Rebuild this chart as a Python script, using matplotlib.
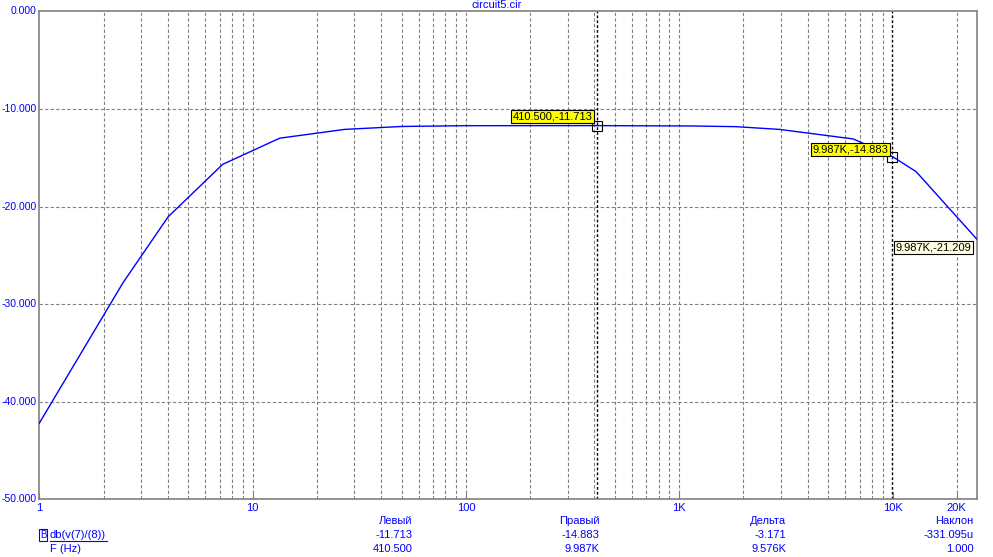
import numpy as np
import matplotlib
matplotlib.use('Agg')
import matplotlib.pyplot as plt
from matplotlib.ticker import FixedLocator, NullFormatter

plt.rcParams['font.family'] = ['Liberation Sans', 'DejaVu Sans']

# AC response
freq = [1, 2.47, 4.02, 7.24, 13.4, 27, 50, 100, 410.5, 1156, 1845, 2950,
        6550, 9987, 12900, 24800]
gain_db = [-42.2, -27.8, -21.05, -15.68, -13.0, -12.1, -11.8, -11.72, -11.713,
           -11.75, -11.82, -12.1, -13.08, -14.883, -16.43, -23.33]

x_ticks = [1, 10, 100, 1000, 10000, 20000]
x_tick_labels = ['1', '10', '100', '1K', '10K', '20K']
y_ticks = [0, -10, -20, -30, -40, -50]

cursor_left = (410.5, -11.713)
cursor_right = (9987, -14.883)

table_heads = ['Левый', 'Правый', 'Дельта', 'Наклон']
table_row1 = ['-11.713', '-14.883', '-3.171', '-331.095u']
table_row2 = ['410.500', '9.987K', '9.576K', '1.000']

blue = '#0000ff'
grey = '#808080'

fig = plt.figure(figsize=(9.93, 5.57), dpi=100)
W, H = 993.0, 557.0
ax = fig.add_axes([39.3 / W, 1 - 499.3 / H, (976.7 - 39.3) / W, (499.3 - 11.3) / H])

ax.plot(freq, gain_db, color=blue, lw=1.0, zorder=3)
ax.set_xscale('log')
ax.set_xlim(1, 24800)
ax.set_ylim(-50, 0)

# grid on every decade subdivision
minor = [m * 10 ** d for d in range(0, 5) for m in range(2, 10) if m * 10 ** d < 24800]
ax.xaxis.set_major_locator(FixedLocator(x_ticks))
ax.set_xticklabels(x_tick_labels)
ax.xaxis.set_minor_locator(FixedLocator(minor))
ax.xaxis.set_minor_formatter(NullFormatter())
ax.set_yticks(y_ticks)
ax.set_yticklabels(['%.3f' % v if v != 0 else '0.000' for v in y_ticks])

for v in [10, 100, 1000] + minor:
    ax.axvline(v, color=grey, lw=0.8, ls=(0, (3, 2)), zorder=1)
for v in y_ticks[1:-1]:
    ax.axhline(v, color=grey, lw=0.8, ls=(0, (3, 2)), zorder=1)

for s in ax.spines.values():
    s.set_color(grey)
    s.set_linewidth(1.2)

ax.tick_params(axis='x', which='both', direction='in', colors=grey, labelcolor=blue,
               labelsize=8, pad=3)
ax.tick_params(axis='x', which='major', length=5)
ax.tick_params(axis='x', which='minor', length=2.5)
ax.tick_params(axis='y', length=0, labelcolor=blue, labelsize=7.5, pad=2)
for lbl in ax.get_yticklabels():
    lbl.set_verticalalignment('center')

# cursors
for fx, fy in [cursor_left, cursor_right]:
    ax.axvline(fx, color='black', lw=1.0, ls=(0, (2, 1.5)), zorder=2)
    ax.plot([fx], [fy], marker='s', ms=7, mfc='none', mec='black', mew=0.8, zorder=4)

ax.annotate('410.500,-11.713', xy=cursor_left, xytext=(-4, 4), textcoords='offset pixels',
            ha='right', va='bottom', fontsize=8, zorder=5,
            bbox=dict(boxstyle='square,pad=0.15', fc='#ffff00', ec='black', lw=0.8))
ax.annotate('9.987K,-14.883', xy=cursor_right, xytext=(-4, 2), textcoords='offset pixels',
            ha='right', va='bottom', fontsize=8, zorder=5,
            bbox=dict(boxstyle='square,pad=0.15', fc='#ffff00', ec='black', lw=0.8))
ax.annotate('9.987K,-21.209', xy=(cursor_right[0], -23.4), xytext=(3, -3),
            textcoords='offset pixels', ha='left', va='top', fontsize=8, zorder=5,
            bbox=dict(boxstyle='square,pad=0.15', fc='#ffffe0', ec='black', lw=0.8))

fig.text(0.5, 1 - 5 / H, 'circuit5.cir', color=blue, fontsize=8, ha='center', va='center')

# readout table under the plot
col_x = [412.7, 599.3, 786, 973.3]
row_y = [521, 535, 548.5]
for cx, a, b, c in zip(col_x, table_heads, table_row1, table_row2):
    for ry, t in zip(row_y, [a, b, c]):
        fig.text(cx / W, 1 - ry / H, t, color=blue, fontsize=8, ha='right', va='center')

fig.text(50 / W, 1 - row_y[1] / H, 'db(v(7)/(8))', color=blue, fontsize=8, ha='left',
         va='center')
fig.add_artist(plt.Line2D([50 / W, 107 / W], [1 - 541 / H, 1 - 541 / H], color=blue, lw=0.8))
fig.text(43 / W, 1 - row_y[1] / H, 'B', color=blue, fontsize=7, ha='center', va='center',
         bbox=dict(boxstyle='square,pad=0.1', fc='white', ec=blue, lw=0.8))
fig.text(50 / W, 1 - row_y[2] / H, 'F (Hz)', color=blue, fontsize=8, ha='left', va='center')

fig.savefig('out.png', dpi=100)
